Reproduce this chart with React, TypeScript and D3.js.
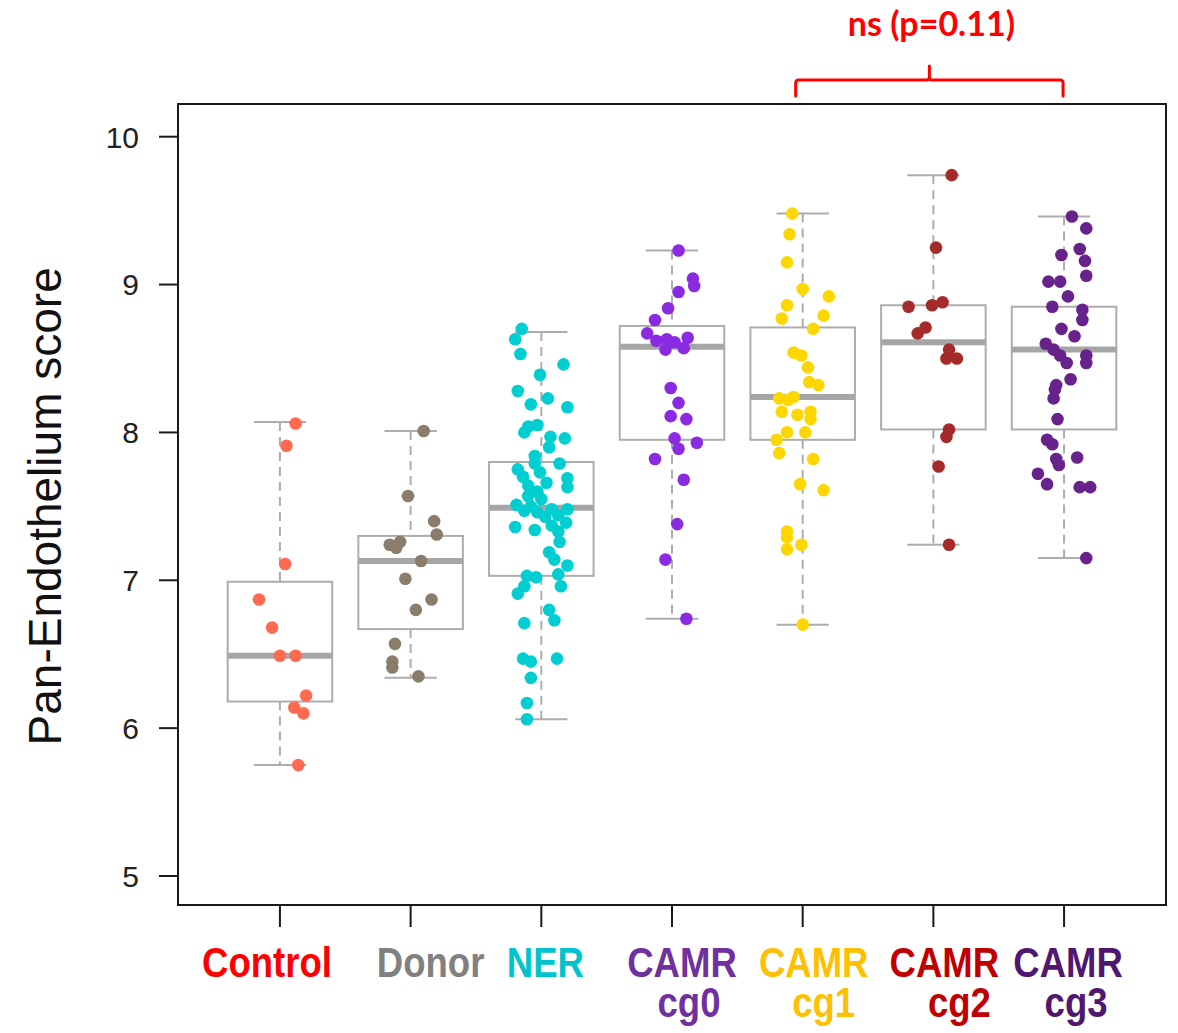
import React from "react";
import * as d3 from "d3";

// ---------------- data ----------------
const categories = ["Control", "Donor", "NER", "CAMR cg0", "CAMR cg1", "CAMR cg2", "CAMR cg3"];
const labelLine1 = ["Control", "Donor", "NER", "CAMR", "CAMR", "CAMR", "CAMR"];
const labelLine2 = ["", "", "", "cg0", "cg1", "cg2", "cg3"];
const yTicks = [5, 6, 7, 8, 9, 10];

// box statistics
const q1 = [6.18, 6.67, 7.03, 7.95, 7.95, 8.02, 8.02];
const medians = [6.49, 7.13, 7.49, 8.58, 8.24, 8.61, 8.56];
const q3 = [6.99, 7.30, 7.80, 8.72, 8.71, 8.86, 8.85];
const whiskerLow = [5.75, 6.34, 6.06, 6.74, 6.70, 7.24, 7.15];
const whiskerHigh = [8.07, 8.01, 8.68, 9.23, 9.48, 9.74, 9.46];

// points: [score, jitter (in category units)]
const controlPts: [number, number][] = [
  [8.06, 0.12], [7.91, 0.05], [7.11, 0.04], [6.87, -0.16], [6.68, -0.06], [6.49, 0.0],
  [6.49, 0.12], [6.22, 0.2], [6.14, 0.11], [6.1, 0.18], [5.75, 0.14],
];
const donorPts: [number, number][] = [
  [8.01, 0.1], [7.57, -0.02], [7.4, 0.18], [7.31, 0.2], [7.24, -0.16], [7.22, -0.11],
  [7.26, -0.08], [7.13, 0.08], [7.01, -0.04], [6.87, 0.16], [6.8, 0.04], [6.57, -0.12],
  [6.45, -0.14], [6.41, -0.14], [6.35, 0.06],
];
const nerPts: [number, number][] = [
  [8.7, -0.15], [8.63, -0.2], [8.53, -0.16], [8.46, 0.17], [8.39, -0.01], [8.28, -0.18],
  [8.19, -0.08], [8.23, 0.05], [8.17, 0.2], [8.04, -0.1], [8.05, -0.03], [8.0, -0.13],
  [7.97, 0.07], [7.96, 0.18], [7.9, 0.06], [7.84, -0.05], [7.79, 0.14], [7.75, -0.18],
  [7.79, -0.05], [7.73, -0.01], [7.7, -0.14], [7.69, 0.2], [7.63, 0.2], [7.66, 0.04],
  [7.64, -0.1], [7.6, -0.03], [7.57, -0.1], [7.55, 0.0], [7.51, -0.19], [7.5, -0.08],
  [7.48, 0.08], [7.48, 0.2], [7.47, -0.13], [7.46, -0.03], [7.43, 0.03], [7.44, 0.13],
  [7.39, 0.19], [7.36, -0.2], [7.34, -0.05], [7.37, 0.08], [7.33, 0.13], [7.26, 0.14],
  [7.19, 0.06], [7.14, 0.1], [7.1, 0.2], [7.04, 0.13], [7.03, -0.11], [7.02, -0.04],
  [6.96, 0.15], [6.96, -0.13], [6.91, -0.18], [6.8, 0.06], [6.73, 0.1], [6.71, -0.13],
  [6.47, -0.14], [6.45, -0.08], [6.47, 0.12], [6.34, -0.08], [6.17, -0.11], [6.06, -0.11],
];
const cg0Pts: [number, number][] = [
  [9.23, 0.05], [9.04, 0.16], [8.99, 0.17], [8.95, 0.05], [8.84, -0.03], [8.76, -0.13],
  [8.67, -0.19], [8.62, -0.12], [8.63, -0.04], [8.61, 0.02], [8.64, 0.12], [8.56, -0.05],
  [8.57, 0.09], [8.3, -0.01], [8.2, 0.05], [8.11, -0.01], [8.09, 0.11], [7.96, 0.02],
  [7.93, 0.19], [7.89, 0.05], [7.82, -0.13], [7.68, 0.09], [7.38, 0.04], [7.14, -0.05],
  [6.74, 0.11],
];
const cg1Pts: [number, number][] = [
  [9.48, -0.08], [9.34, -0.1], [9.15, -0.12], [8.97, 0.0], [8.92, 0.2], [8.86, -0.12],
  [8.79, 0.16], [8.77, -0.16], [8.7, 0.08], [8.54, -0.07], [8.52, -0.01], [8.44, 0.04],
  [8.34, 0.05], [8.32, 0.12], [8.23, -0.18], [8.24, -0.07], [8.22, -0.11], [8.14, -0.16],
  [8.12, -0.04], [8.14, 0.06], [8.09, 0.06], [8.0, -0.12], [8.0, 0.02], [7.95, -0.2],
  [7.86, -0.18], [7.82, 0.08], [7.65, -0.02], [7.61, 0.16], [7.33, -0.12], [7.29, -0.12],
  [7.24, -0.01], [7.21, -0.12], [6.7, 0.0],
];
const cg2Pts: [number, number][] = [
  [9.74, 0.14], [9.25, 0.02], [8.85, -0.19], [8.86, -0.01], [8.88, 0.07], [8.67, -0.12],
  [8.71, -0.06], [8.56, 0.12], [8.5, 0.1], [8.5, 0.18], [8.02, 0.12], [7.97, 0.1],
  [7.77, 0.04], [7.24, 0.12],
];
const cg3Pts: [number, number][] = [
  [9.46, 0.06], [9.38, 0.17], [9.2, -0.02], [9.24, 0.12], [9.16, 0.16], [9.06, 0.17],
  [9.02, -0.12], [9.02, -0.03], [8.92, 0.03], [8.85, -0.09], [8.83, 0.14], [8.76, 0.14],
  [8.7, -0.02], [8.65, 0.08], [8.6, -0.14], [8.56, -0.08], [8.52, -0.03], [8.47, 0.02],
  [8.52, 0.17], [8.47, 0.17], [8.36, 0.05], [8.32, -0.06], [8.29, -0.07], [8.23, -0.08],
  [8.09, -0.05], [7.95, -0.13], [7.92, -0.09], [7.83, 0.1], [7.82, -0.06], [7.78, -0.04],
  [7.72, -0.2], [7.65, -0.13], [7.63, 0.12], [7.63, 0.2], [7.15, 0.17],
];
const groupPoints = [controlPts, donorPts, nerPts, cg0Pts, cg1Pts, cg2Pts, cg3Pts];

const pointColors = ["#FF6A50", "#8B7D6B", "#00CED1", "#8A2BE2", "#FFD700", "#A52A2A", "#68228B"];
const labelColors = ["#FF0000", "#808080", "#00C3CD", "#7030A0", "#FFC000", "#C00000", "#4F1770"];
const annotationText = "ns (p=0.11)";

// ---------------- layout ----------------
const W = 1178;
const H = 1033;
const frame = { left: 178, right: 1166, top: 104, bottom: 905 };
const labelNudge = [-13, 20, 4, 10, 11, 11, 4];
const labelNudge2 = [0, 0, 0, 17, 21, 26, 12];
const narrow = 0.85;

export default function App() {
  const x = d3
    .scaleLinear()
    .domain([0.22, categories.length + 0.78])
    .range([frame.left, frame.right]);
  const y = d3.scaleLinear().domain([5, 10]).range([876, 136.7]);
  const unit = x(1) - x(0);
  const boxW = 0.8 * unit;
  const capW = 0.4 * unit;
  const boxStroke = "#ADADAD";

  const bracketL = x(5) - 7;
  const bracketR = x(7) - 1;
  const bracketM = (bracketL + bracketR) / 2;
  const bracketPath = d3.path();
  bracketPath.moveTo(bracketL, 96);
  bracketPath.lineTo(bracketL, 83);
  bracketPath.quadraticCurveTo(bracketL, 80, bracketL + 3, 80);
  bracketPath.lineTo(bracketM - 3, 80);
  bracketPath.quadraticCurveTo(bracketM, 80, bracketM, 77);
  bracketPath.lineTo(bracketM, 66);
  bracketPath.moveTo(bracketM, 77);
  bracketPath.quadraticCurveTo(bracketM, 80, bracketM + 3, 80);
  bracketPath.lineTo(bracketR - 3, 80);
  bracketPath.quadraticCurveTo(bracketR, 80, bracketR, 83);
  bracketPath.lineTo(bracketR, 96);

  const labelFont = "'Liberation Sans Narrow', 'Arial Narrow', 'Liberation Sans', Arial, sans-serif";

  return (
    <svg
      width={W}
      height={H}
      style={{ position: "absolute", left: 0, top: 0, background: "#fff" }}
      fontFamily="'Liberation Sans', Arial, sans-serif"
    >
      <rect x={0} y={0} width={W} height={H} fill="#fff" />

      {/* boxes */}
      {categories.map((c, i) => {
        const cx = x(i + 1);
        return (
          <g key={c}>
            <line x1={cx} x2={cx} y1={y(whiskerHigh[i])} y2={y(q3[i])} stroke={boxStroke} strokeWidth={2} strokeDasharray="9,6" />
            <line x1={cx} x2={cx} y1={y(q1[i])} y2={y(whiskerLow[i])} stroke={boxStroke} strokeWidth={2} strokeDasharray="9,6" />
            <line x1={cx - capW / 2} x2={cx + capW / 2} y1={y(whiskerHigh[i])} y2={y(whiskerHigh[i])} stroke={boxStroke} strokeWidth={2} />
            <line x1={cx - capW / 2} x2={cx + capW / 2} y1={y(whiskerLow[i])} y2={y(whiskerLow[i])} stroke={boxStroke} strokeWidth={2} />
            <rect x={cx - boxW / 2} y={y(q3[i])} width={boxW} height={y(q1[i]) - y(q3[i])} fill="#fff" stroke={boxStroke} strokeWidth={2} />
            <line x1={cx - boxW / 2} x2={cx + boxW / 2} y1={y(medians[i])} y2={y(medians[i])} stroke="#A6A6A6" strokeWidth={6} />
          </g>
        );
      })}

      {/* points */}
      {groupPoints.map((pts, i) => (
        <g key={"p" + i} fill={pointColors[i]}>
          {pts.map(([v, j], k) => (
            <circle key={k} cx={x(i + 1 + j)} cy={y(v)} r={6.3} />
          ))}
        </g>
      ))}

      {/* frame */}
      <rect
        x={frame.left}
        y={frame.top}
        width={frame.right - frame.left}
        height={frame.bottom - frame.top}
        fill="none"
        stroke="#1a1a1a"
        strokeWidth={2}
      />

      {/* y axis */}
      {yTicks.map((t) => (
        <g key={"yt" + t}>
          <line x1={159} x2={frame.left} y1={y(t)} y2={y(t)} stroke="#1a1a1a" strokeWidth={2} />
          <text x={139} y={y(t)} dy="0.36em" textAnchor="end" fontSize={30} fill="#222">
            {t}
          </text>
        </g>
      ))}
      <text
        transform={`translate(61, ${(y(5) + y(10)) / 2}) rotate(-90)`}
        textAnchor="middle"
        fontSize={46}
        fill="#111"
      >
        Pan-Endothelium score
      </text>

      {/* x axis */}
      {categories.map((c, i) => (
        <g key={"xt" + c}>
          <line x1={x(i + 1)} x2={x(i + 1)} y1={frame.bottom} y2={927} stroke="#1a1a1a" strokeWidth={2} />
          <text
            transform={`translate(${x(i + 1) + labelNudge[i]}, 977) scale(${narrow}, 1)`}
            textAnchor="middle"
            fontSize={43}
            fontWeight="bold"
            fontFamily={labelFont}
            fill={labelColors[i]}
          >
            {labelLine1[i]}
          </text>
          {labelLine2[i] && (
            <text
              transform={`translate(${x(i + 1) + labelNudge2[i]}, 1017) scale(${narrow}, 1)`}
              textAnchor="middle"
              fontSize={43}
              fontWeight="bold"
              fontFamily={labelFont}
              fill={labelColors[i]}
            >
              {labelLine2[i]}
            </text>
          )}
        </g>
      ))}

      {/* annotation */}
      <path d={bracketPath.toString()} fill="none" stroke="#FF0000" strokeWidth={3} strokeLinecap="round" />
      <text
        x={bracketM + 2}
        y={36}
        textAnchor="middle"
        fontSize={34}
        fontWeight="bold"
        fontFamily="Lato, 'Open Sans', sans-serif"
        fill="#FF0000"
      >
        {annotationText}
      </text>
    </svg>
  );
}
